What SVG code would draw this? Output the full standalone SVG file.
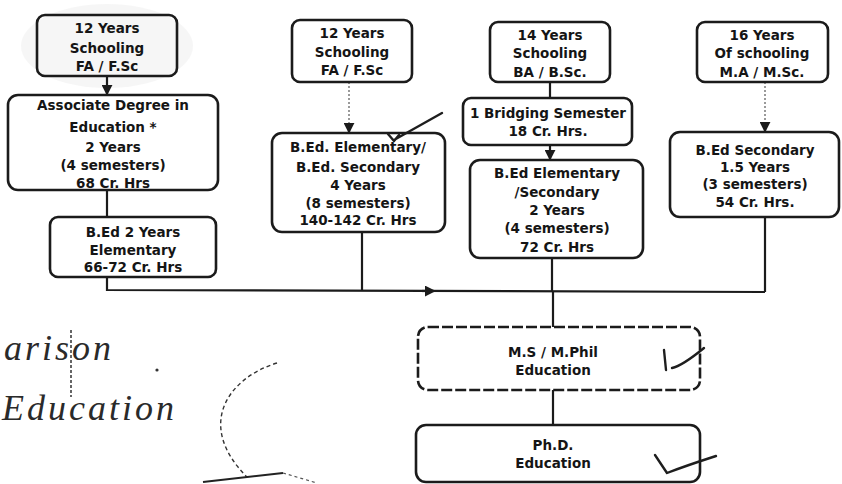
<svg xmlns="http://www.w3.org/2000/svg" width="842" height="484" viewBox="0 0 842 484">
<defs>
<style>
.box{fill:none;stroke:#1b1b1b;stroke-width:2.6}
.dash{stroke-dasharray:11 3}
.t{font-family:"DejaVu Sans","Liberation Sans",sans-serif;font-weight:bold;font-size:13.5px;fill:#151515;text-anchor:middle}
.c{fill:none;stroke:#1b1b1b;stroke-width:2.2}
.faint{fill:none;stroke:#9a9a9a;stroke-width:2;stroke-dasharray:2 2}
.hand{font-family:"Liberation Serif","DejaVu Serif",serif;font-style:italic;font-size:36px;fill:#2a2a2a;letter-spacing:3px}
.ink{fill:none;stroke:#1e1e1e;stroke-width:2.4;stroke-linecap:round;stroke-linejoin:round}
</style>
<marker id="ah" viewBox="0 0 6 6" refX="5" refY="3" markerWidth="5" markerHeight="5" orient="auto">
<path d="M0,0 L6,3 L0,6 z" fill="#1b1b1b"/>
</marker>
</defs>
<rect width="842" height="484" fill="#ffffff"/>
<ellipse cx="107" cy="46" rx="86" ry="42" fill="#eeeeee" opacity="0.55"/>

<g id="connectors">
<line class="c" x1="107" y1="76" x2="107" y2="94" marker-end="url(#ah)"/>
<line class="faint" x1="349" y1="82" x2="349" y2="130"/>
<line class="c" x1="349" y1="126" x2="349" y2="132" marker-end="url(#ah)"/>
<line class="c" x1="550" y1="82" x2="550" y2="97"/>
<line class="c" x1="550" y1="145" x2="550" y2="159" marker-end="url(#ah)"/>
<line class="faint" x1="765" y1="82" x2="765" y2="128"/>
<line class="c" x1="765" y1="125" x2="765" y2="131" marker-end="url(#ah)"/>
<line class="c" x1="107" y1="190" x2="107" y2="217"/>
<polyline class="c" points="107,277 107,290 765,292"/>
<line class="c" x1="362" y1="232" x2="362" y2="291"/>
<line class="c" x1="552" y1="258" x2="552" y2="291"/>
<line class="c" x1="765" y1="217" x2="765" y2="292"/>
<line class="c" x1="422" y1="291" x2="434" y2="291" marker-end="url(#ah)"/>
<line class="c" x1="553" y1="291" x2="553" y2="327"/>
<line class="c" x1="553" y1="390" x2="553" y2="425"/>
</g>

<g id="n_a1"><rect class="box" x="37" y="15" width="140" height="61" rx="8"/>
<text class="t" x="107" y="33">12 Years</text><text class="t" x="107" y="53">Schooling</text><text class="t" x="107" y="71">FA / F.Sc</text></g>

<g id="n_a2"><rect class="box" x="8" y="95" width="210" height="95" rx="10"/>
<text class="t" x="113" y="110">Associate Degree in</text><text class="t" x="113" y="132">Education *</text><text class="t" x="113" y="152">2 Years</text><text class="t" x="113" y="170">(4 semesters)</text><text class="t" x="113" y="188">68 Cr. Hrs</text></g>

<g id="n_a3"><rect class="box" x="50" y="217" width="166" height="60" rx="8"/>
<text class="t" x="133" y="237">B.Ed 2 Years</text><text class="t" x="133" y="255">Elementary</text><text class="t" x="133" y="272">66-72 Cr. Hrs</text></g>

<g id="n_b1"><rect class="box" x="292" y="20" width="120" height="62" rx="8"/>
<text class="t" x="352" y="38">12 Years</text><text class="t" x="352" y="57">Schooling</text><text class="t" x="352" y="75">FA / F.Sc</text></g>

<g id="n_b2"><rect class="box" x="272" y="133" width="173" height="99" rx="10"/>
<text class="t" x="358" y="152">B.Ed. Elementary/</text><text class="t" x="358" y="172">B.Ed. Secondary</text><text class="t" x="358" y="190">4 Years</text><text class="t" x="358" y="208">(8 semesters)</text><text class="t" x="358" y="225">140-142 Cr. Hrs</text></g>

<g id="n_c1"><rect class="box" x="490" y="22" width="120" height="60" rx="8"/>
<text class="t" x="550" y="40">14 Years</text><text class="t" x="550" y="58">Schooling</text><text class="t" x="550" y="77">BA / B.Sc.</text></g>

<g id="n_c2"><rect class="box" x="463" y="98" width="169" height="47" rx="8"/>
<text class="t" x="548" y="118">1 Bridging Semester</text><text class="t" x="548" y="136">18 Cr. Hrs.</text></g>

<g id="n_c3"><rect class="box" x="470" y="160" width="173" height="98" rx="10"/>
<text class="t" x="557" y="178">B.Ed Elementary</text><text class="t" x="557" y="197">/Secondary</text><text class="t" x="557" y="215">2 Years</text><text class="t" x="557" y="233">(4 semesters)</text><text class="t" x="557" y="252">72 Cr. Hrs</text></g>

<g id="n_d1"><rect class="box" x="697" y="22" width="131" height="60" rx="8"/>
<text class="t" x="762" y="40">16 Years</text><text class="t" x="762" y="58">Of schooling</text><text class="t" x="762" y="77">M.A / M.Sc.</text></g>

<g id="n_d2"><rect class="box" x="670" y="132" width="169" height="85" rx="10"/>
<text class="t" x="755" y="155">B.Ed Secondary</text><text class="t" x="755" y="172">1.5 Years</text><text class="t" x="755" y="189">(3 semesters)</text><text class="t" x="755" y="207">54 Cr. Hrs.</text></g>

<g id="n_ms"><rect class="box dash" x="418" y="327" width="282" height="63" rx="10"/>
<text class="t" x="553" y="357">M.S / M.Phil</text><text class="t" x="553" y="375">Education</text></g>

<g id="n_phd"><rect class="box" x="416" y="425" width="284" height="57" rx="10"/>
<text class="t" x="553" y="450">Ph.D.</text><text class="t" x="553" y="468">Education</text></g>

<g id="annotations">
<path class="ink" d="M442,113 L394,140 M388,134 L394,141 L399,135"/>
<path class="ink" d="M664,350 L666,370 M672,368 Q682,366 704,348"/>
<path class="ink" d="M655,455 L667,473 Q685,466 716,456"/>
<text class="hand" x="4" y="360">arison</text>
<text class="hand" x="2" y="420">Education</text>
<line x1="71" y1="330" x2="71" y2="397" stroke="#333" stroke-width="1.5" stroke-dasharray="3 2"/>
<circle cx="157" cy="370" r="1.6" fill="#333"/>
<path d="M277,363 C228,378 195,425 247,477" fill="none" stroke="#333" stroke-width="1.4" stroke-dasharray="4 3"/>
<path d="M203,482 L283,473" fill="none" stroke="#222" stroke-width="2"/>
<path d="M283,473 L317,483" fill="none" stroke="#555" stroke-width="1.2" stroke-dasharray="3 3"/>
</g>
</svg>
